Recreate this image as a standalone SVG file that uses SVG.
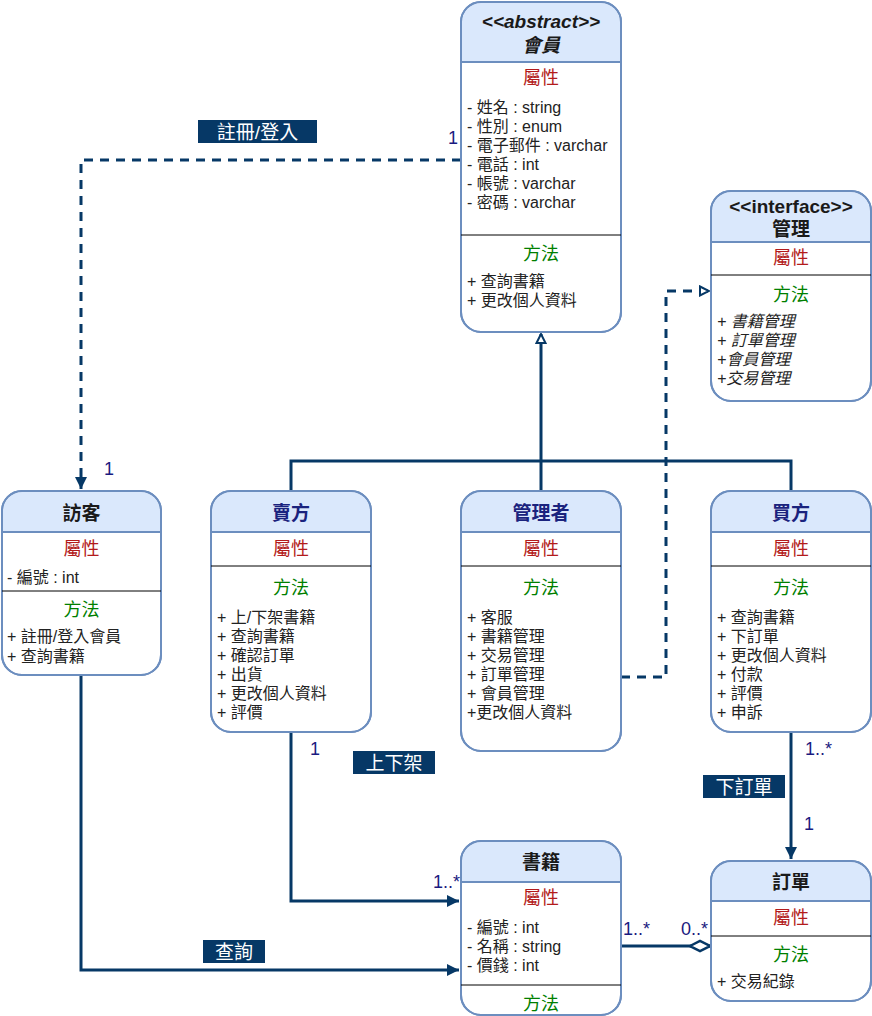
<svg xmlns="http://www.w3.org/2000/svg" width="872" height="1016" viewBox="0 0 872 1016">
<style>
text{font-family:"Liberation Sans","Noto Sans CJK TC",sans-serif;fill:#1a1a1a}
.box{fill:#fff;stroke:#6c8ebf;stroke-width:2}
.frame{fill:none;stroke:#6c8ebf;stroke-width:2}
.hd{fill:#dae8fc;stroke:none}
.hl{stroke:#6c8ebf;stroke-width:2}
.dv{stroke:#000;stroke-width:1}
.t{font-size:19px;font-weight:bold;text-anchor:middle}
.tb{fill:#1a237e}
.at{font-size:18px;fill:#b31b1b;text-anchor:middle}
.me{font-size:18px;fill:#007f00;text-anchor:middle}
.it{font-size:16px;fill:#222}
.ii{font-size:16px;font-style:italic;fill:#222}
.ln{fill:none;stroke:#063866;stroke-width:3}
.dash{stroke-dasharray:9 7}
.mul{font-size:18px;fill:#1a1a80}
.lb{fill:#063866}
.lt{font-size:19px;fill:#fff;text-anchor:middle}
</style>
<defs>
<marker id="arr" markerWidth="14" markerHeight="14" refX="13" refY="7" orient="auto" markerUnits="userSpaceOnUse"><path d="M1,1 L13,7 L1,13 Z" fill="#063866"/></marker>
<marker id="gen" markerWidth="12" markerHeight="12" refX="10" refY="6" orient="auto" markerUnits="userSpaceOnUse"><path d="M1,1.5 L10,6 L1,10.5 Z" fill="#fff" stroke="#063866" stroke-width="2"/></marker>
<marker id="dia" markerWidth="22" markerHeight="14" refX="21" refY="7" orient="auto" markerUnits="userSpaceOnUse"><path d="M1,7 L11,2 L21,7 L11,12 Z" fill="#fff" stroke="#063866" stroke-width="2.5"/></marker>
</defs>

<g id="connectors">
<path class="ln dash" d="M461,160 H81 V489" marker-end="url(#arr)"/>
<path class="ln" d="M541,461 V334" marker-end="url(#gen)"/>
<path class="ln" d="M291,491 V461 H791 V491 M541,461 V491"/>
<path class="ln dash" d="M621,677 H666 V291 H709" marker-end="url(#gen)"/>
<path class="ln" d="M291,732 V901 H459" marker-end="url(#arr)"/>
<path class="ln" d="M81,675 V970 H459" marker-end="url(#arr)"/>
<path class="ln" d="M791,732 V859" marker-end="url(#arr)"/>
<path class="ln" d="M621,946 H710" marker-end="url(#dia)"/>
<text class="mul" x="448" y="144">1</text>
<text class="mul" x="104" y="475">1</text>
<text class="mul" x="310" y="755">1</text>
<text class="mul" x="433" y="888">1..*</text>
<text class="mul" x="805" y="755">1..*</text>
<text class="mul" x="804" y="830">1</text>
<text class="mul" x="623" y="935">1..*</text>
<text class="mul" x="681" y="935">0..*</text>
<rect class="lb" x="198" y="120" width="119" height="23"/>
<text class="lt" x="257.5" y="138.5">註冊/登入</text>
<rect class="lb" x="353" y="751" width="82" height="23"/>
<text class="lt" x="394" y="769.5">上下架</text>
<rect class="lb" x="703" y="775" width="82" height="23"/>
<text class="lt" x="744" y="793.5">下訂單</text>
<rect class="lb" x="203" y="940" width="62" height="23"/>
<text class="lt" x="234" y="958.5">查詢</text>
</g>

<g id="member">
<rect class="box" x="461" y="2" width="160" height="330" rx="20"/>
<path class="hd" d="M462,62 V22 A19,19 0 0 1 481,3 H601 A19,19 0 0 1 620,22 V62 Z"/>
<line class="hl" x1="461" y1="62" x2="621" y2="62"/>
<rect class="frame" x="461" y="2" width="160" height="330" rx="20"/>
<text class="t" x="541" y="28" font-style="italic">&lt;&lt;abstract&gt;&gt;</text>
<text class="t" x="541" y="52" font-style="italic">會員</text>
<text class="at" x="541" y="84">屬性</text>
<text class="it" x="467" y="113">- 姓名 : string</text>
<text class="it" x="467" y="132">- 性別 : enum</text>
<text class="it" x="467" y="151">- 電子郵件 : varchar</text>
<text class="it" x="467" y="170">- 電話 : int</text>
<text class="it" x="467" y="189">- 帳號 : varchar</text>
<text class="it" x="467" y="208">- 密碼 : varchar</text>
<line class="dv" x1="461" y1="235" x2="621" y2="235"/>
<text class="me" x="541" y="260">方法</text>
<text class="it" x="467" y="287">+ 查詢書籍</text>
<text class="it" x="467" y="306">+ 更改個人資料</text>
</g>

<g id="manage">
<rect class="box" x="711" y="191" width="160" height="210" rx="20"/>
<path class="hd" d="M712,242 V211 A19,19 0 0 1 731,192 H851 A19,19 0 0 1 870,211 V242 Z"/>
<line class="hl" x1="711" y1="242" x2="871" y2="242"/>
<rect class="frame" x="711" y="191" width="160" height="210" rx="20"/>
<text class="t" x="791" y="213">&lt;&lt;interface&gt;&gt;</text>
<text class="t" x="791" y="236" font-weight="normal">管理</text>
<text class="at" x="791" y="264">屬性</text>
<line class="dv" x1="711" y1="275" x2="871" y2="275"/>
<text class="me" x="791" y="301">方法</text>
<text class="ii" x="717" y="327">+ 書籍管理</text>
<text class="ii" x="717" y="346">+ 訂單管理</text>
<text class="ii" x="717" y="365">+會員管理</text>
<text class="ii" x="717" y="384">+交易管理</text>
</g>

<g id="visitor">
<rect class="box" x="2" y="491" width="159" height="184" rx="20"/>
<path class="hd" d="M3,532 V511 A19,19 0 0 1 22,492 H141 A19,19 0 0 1 160,511 V532 Z"/>
<line class="hl" x1="2" y1="532" x2="161" y2="532"/>
<rect class="frame" x="2" y="491" width="159" height="184" rx="20"/>
<text class="t" x="81.5" y="520">訪客</text>
<text class="at" x="81.5" y="555">屬性</text>
<text class="it" x="7" y="583">- 編號 : int</text>
<line class="dv" x1="2" y1="591" x2="161" y2="591"/>
<text class="me" x="81.5" y="616">方法</text>
<text class="it" x="7" y="642">+ 註冊/登入會員</text>
<text class="it" x="7" y="662">+ 查詢書籍</text>
</g>

<g id="seller">
<rect class="box" x="211" y="491" width="160" height="241" rx="20"/>
<path class="hd" d="M212,532 V511 A19,19 0 0 1 231,492 H351 A19,19 0 0 1 370,511 V532 Z"/>
<line class="hl" x1="211" y1="532" x2="371" y2="532"/>
<rect class="frame" x="211" y="491" width="160" height="241" rx="20"/>
<text class="t tb" x="291" y="520">賣方</text>
<text class="at" x="291" y="555">屬性</text>
<line class="dv" x1="211" y1="566" x2="371" y2="566"/>
<text class="me" x="291" y="594">方法</text>
<text class="it" x="217" y="623">+ 上/下架書籍</text>
<text class="it" x="217" y="642">+ 查詢書籍</text>
<text class="it" x="217" y="661">+ 確認訂單</text>
<text class="it" x="217" y="680">+ 出貨</text>
<text class="it" x="217" y="699">+ 更改個人資料</text>
<text class="it" x="217" y="718">+ 評價</text>
</g>

<g id="admin">
<rect class="box" x="461" y="491" width="160" height="260" rx="20"/>
<path class="hd" d="M462,532 V511 A19,19 0 0 1 481,492 H601 A19,19 0 0 1 620,511 V532 Z"/>
<line class="hl" x1="461" y1="532" x2="621" y2="532"/>
<rect class="frame" x="461" y="491" width="160" height="260" rx="20"/>
<text class="t tb" x="541" y="520">管理者</text>
<text class="at" x="541" y="555">屬性</text>
<line class="dv" x1="461" y1="566" x2="621" y2="566"/>
<text class="me" x="541" y="594">方法</text>
<text class="it" x="467" y="623">+ 客服</text>
<text class="it" x="467" y="642">+ 書籍管理</text>
<text class="it" x="467" y="661">+ 交易管理</text>
<text class="it" x="467" y="680">+ 訂單管理</text>
<text class="it" x="467" y="699">+ 會員管理</text>
<text class="it" x="467" y="718">+更改個人資料</text>
</g>

<g id="buyer">
<rect class="box" x="711" y="491" width="160" height="241" rx="20"/>
<path class="hd" d="M712,532 V511 A19,19 0 0 1 731,492 H851 A19,19 0 0 1 870,511 V532 Z"/>
<line class="hl" x1="711" y1="532" x2="871" y2="532"/>
<rect class="frame" x="711" y="491" width="160" height="241" rx="20"/>
<text class="t tb" x="791" y="520">買方</text>
<text class="at" x="791" y="555">屬性</text>
<line class="dv" x1="711" y1="566" x2="871" y2="566"/>
<text class="me" x="791" y="594">方法</text>
<text class="it" x="717" y="623">+ 查詢書籍</text>
<text class="it" x="717" y="642">+ 下訂單</text>
<text class="it" x="717" y="661">+ 更改個人資料</text>
<text class="it" x="717" y="680">+ 付款</text>
<text class="it" x="717" y="699">+ 評價</text>
<text class="it" x="717" y="718">+ 申訴</text>
</g>

<g id="book">
<rect class="box" x="461" y="841" width="160" height="174" rx="20"/>
<path class="hd" d="M462,882 V861 A19,19 0 0 1 481,842 H601 A19,19 0 0 1 620,861 V882 Z"/>
<line class="hl" x1="461" y1="882" x2="621" y2="882"/>
<rect class="frame" x="461" y="841" width="160" height="174" rx="20"/>
<text class="t" x="541" y="869">書籍</text>
<text class="at" x="541" y="904">屬性</text>
<text class="it" x="467" y="933">- 編號 : int</text>
<text class="it" x="467" y="952">- 名稱 : string</text>
<text class="it" x="467" y="971">- 價錢 : int</text>
<line class="dv" x1="461" y1="985" x2="621" y2="985"/>
<text class="me" x="541" y="1010">方法</text>
</g>

<g id="order">
<rect class="box" x="711" y="861" width="160" height="140" rx="20"/>
<path class="hd" d="M712,901 V881 A19,19 0 0 1 731,862 H851 A19,19 0 0 1 870,881 V901 Z"/>
<line class="hl" x1="711" y1="901" x2="871" y2="901"/>
<rect class="frame" x="711" y="861" width="160" height="140" rx="20"/>
<text class="t" x="791" y="889">訂單</text>
<text class="at" x="791" y="924">屬性</text>
<line class="dv" x1="711" y1="936" x2="871" y2="936"/>
<text class="me" x="791" y="961">方法</text>
<text class="it" x="717" y="987">+ 交易紀錄</text>
</g>
</svg>
